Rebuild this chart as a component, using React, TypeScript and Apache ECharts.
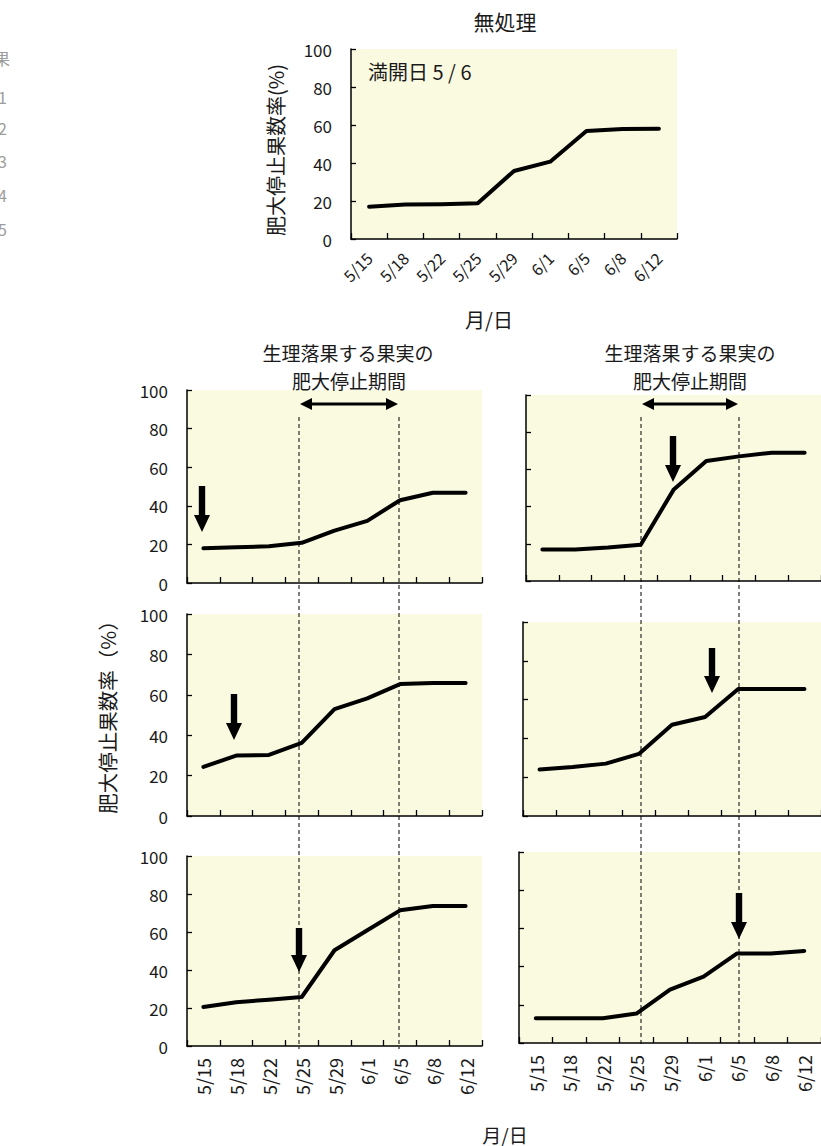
import React, { useEffect, useRef } from "react";
import * as echarts from "echarts";

// Sampling dates (month/day)
const categories = ["5/15", "5/18", "5/22", "5/25", "5/29", "6/1", "6/5", "6/8", "6/12"];

// Percentage of fruits whose enlargement has stopped (%)
const untreated = [17, 18.2, 18.3, 18.8, 35.8, 40.7, 56.8, 57.9, 58];
const panelL1 = [18, 18.5, 19, 20.8, 27.1, 32.2, 42.9, 46.8, 46.8];
const panelR1 = [17, 17, 18, 19.5, 49, 64.5, 67, 69, 69];
const panelL2 = [24.3, 29.9, 30.2, 36.2, 52.9, 58.2, 65.3, 65.8, 65.8];
const panelR2 = [24, 25.2, 27, 32, 47, 51, 65.5, 65.5, 65.5];
const panelL3 = [20.5, 23, 24.4, 25.8, 50.4, 60.9, 71.4, 73.7, 73.7];
const panelR3 = [13, 13, 13, 15.4, 28, 34.7, 46.9, 46.9, 48.2];

const yMin = 0;
const yMax = 100;
const yStep = 20;

const FONT = "'Noto Sans CJK JP', 'Noto Sans', sans-serif";
const TEXT = "#1a1a1a";
const PLOT_BG = "#fafae1";

type Panel = {
  data: number[];
  grid: { left: number; top: number; width: number; height: number };
  yLabels: boolean;
  xLabels: "none" | "slant" | "vertical";
};

const panels: Panel[] = [
  { data: untreated, grid: { left: 351, top: 49, width: 326, height: 190 }, yLabels: true, xLabels: "slant" },
  { data: panelL1, grid: { left: 187, top: 390, width: 295, height: 193 }, yLabels: true, xLabels: "none" },
  { data: panelR1, grid: { left: 526, top: 395, width: 300, height: 186 }, yLabels: false, xLabels: "none" },
  { data: panelL2, grid: { left: 187, top: 614, width: 295, height: 202 }, yLabels: true, xLabels: "none" },
  { data: panelR2, grid: { left: 523, top: 622, width: 301, height: 194 }, yLabels: false, xLabels: "none" },
  { data: panelL3, grid: { left: 187, top: 856, width: 295, height: 190 }, yLabels: true, xLabels: "vertical" },
  { data: panelR3, grid: { left: 519, top: 852, width: 308, height: 191 }, yLabels: false, xLabels: "vertical" },
];

// Down arrows marking the treatment timing in each panel: [x, top, tip]
const downArrows: [number, number, number][] = [
  [202, 486, 532],
  [673, 436, 482],
  [234, 694, 740],
  [712, 648, 693],
  [299, 928, 972],
  [739, 893, 939],
];

function downArrow(x: number, y0: number, y1: number) {
  const sw = 3.2;
  const hw = 8;
  const hl = 17;
  return {
    type: "polygon",
    z: 20,
    shape: {
      points: [
        [x - sw, y0],
        [x + sw, y0],
        [x + sw, y1 - hl],
        [x + hw, y1 - hl],
        [x, y1],
        [x - hw, y1 - hl],
        [x - sw, y1 - hl],
      ],
    },
    style: { fill: "#000" },
  };
}

function doubleArrow(x0: number, x1: number, y: number) {
  const sw = 1.6;
  const hw = 6;
  const hl = 12;
  return {
    type: "polygon",
    z: 20,
    shape: {
      points: [
        [x0, y],
        [x0 + hl, y - hw],
        [x0 + hl, y - sw],
        [x1 - hl, y - sw],
        [x1 - hl, y - hw],
        [x1, y],
        [x1 - hl, y + hw],
        [x1 - hl, y + sw],
        [x0 + hl, y + sw],
        [x0 + hl, y + hw],
      ],
    },
    style: { fill: "#000" },
  };
}

function dashed(x: number, y0: number, y1: number) {
  return {
    type: "line",
    z: 1,
    shape: { x1: x, y1: y0, x2: x, y2: y1 },
    style: { stroke: "#000", lineWidth: 1, lineDash: [4, 3] },
  };
}

function label(text: string, x: number, y: number, fontSize: number, extra: any = {}) {
  return {
    type: "text",
    z: 20,
    x,
    y,
    rotation: extra.rotation || 0,
    style: {
      text,
      fontSize,
      fontFamily: FONT,
      fill: extra.fill || TEXT,
      align: extra.align || "center",
      verticalAlign: "middle",
    },
  };
}

export default function App() {
  const ref = useRef<HTMLDivElement>(null);

  useEffect(() => {
    if (!ref.current) return;
    const chart = echarts.init(ref.current, null, { renderer: "svg" });

    const grid = panels.map((p) => ({
      ...p.grid,
      show: true,
      backgroundColor: PLOT_BG,
      borderWidth: 0,
      containLabel: false,
    }));

    const xAxis = panels.map((p, i) => ({
      type: "category",
      gridIndex: i,
      data: categories,
      boundaryGap: true,
      axisLine: { show: true, lineStyle: { color: "#000", width: 1.5 } },
      axisTick: { show: true, inside: true, length: 6, interval: 0, lineStyle: { color: "#000", width: 1.3 } },
      axisLabel: {
        show: p.xLabels !== "none",
        interval: 0,
        rotate: p.xLabels === "slant" ? 45 : 90,
        margin: p.xLabels === "slant" ? 16 : 12,
        fontSize: p.xLabels === "slant" ? 16 : 18,
        fontFamily: FONT,
        color: TEXT,
      },
      splitLine: { show: false },
    }));

    const yAxis = panels.map((p, i) => ({
      type: "value",
      gridIndex: i,
      min: yMin,
      max: yMax,
      interval: yStep,
      axisLine: { show: true, lineStyle: { color: "#000", width: 1.5 } },
      axisTick: { show: true, inside: true, length: 5, lineStyle: { color: "#000", width: 1.3 } },
      axisLabel: {
        show: p.yLabels,
        margin: 19,
        fontSize: 17,
        fontFamily: FONT,
        color: TEXT,
      },
      splitLine: { show: false },
    }));

    const series = panels.map((p, i) => ({
      type: "line",
      xAxisIndex: i,
      yAxisIndex: i,
      data: p.data,
      showSymbol: false,
      symbol: "none",
      z: 5,
      lineStyle: { color: "#000", width: 4, cap: "round", join: "round" },
    }));

    const graphic: any[] = [
      // side text partly cut off at the left edge
      label("結果", 10, 58, 16, { align: "right", fill: "#9c9c9c" }),
      label("処理1", 7, 97, 16, { align: "right", fill: "#9c9c9c" }),
      label("処理2", 7, 128, 16, { align: "right", fill: "#9c9c9c" }),
      label("処理3", 7, 161, 16, { align: "right", fill: "#9c9c9c" }),
      label("処理4", 7, 195, 16, { align: "right", fill: "#9c9c9c" }),
      label("処理5", 7, 229, 16, { align: "right", fill: "#9c9c9c" }),

      // untreated panel
      label("無処理", 505, 21, 21),
      label("満開日 5 / 6", 368, 71, 20, { align: "left" }),
      label("肥大停止果数率(%)", 275, 150, 20, { rotation: Math.PI / 2 }),
      label("月/日", 489, 319, 20),

      // treatment panels
      label("生理落果する果実の", 348, 352, 19),
      label("肥大停止期間", 349, 380, 19),
      label("生理落果する果実の", 690, 352, 19),
      label("肥大停止期間", 690, 380, 19),
      label("肥大停止果数率（%）", 107, 712, 20.5, { rotation: Math.PI / 2 }),
      label("月/日", 505, 1134, 19),

      doubleArrow(300, 398, 404),
      doubleArrow(642, 738, 404),

      dashed(299, 417, 1049),
      dashed(399, 417, 1049),
      dashed(641, 417, 1046),
      dashed(739, 417, 1046),

      ...downArrows.map(([x, a, b]) => downArrow(x, a, b)),
    ];

    chart.setOption({
      animation: false,
      backgroundColor: "#fff",
      textStyle: { fontFamily: FONT },
      grid,
      xAxis,
      yAxis,
      series,
      graphic,
    });

    return () => chart.dispose();
  }, []);

  return (
    <div
      ref={ref}
      style={{ position: "fixed", left: 0, top: 0, width: 821, height: 1146 }}
    />
  );
}
